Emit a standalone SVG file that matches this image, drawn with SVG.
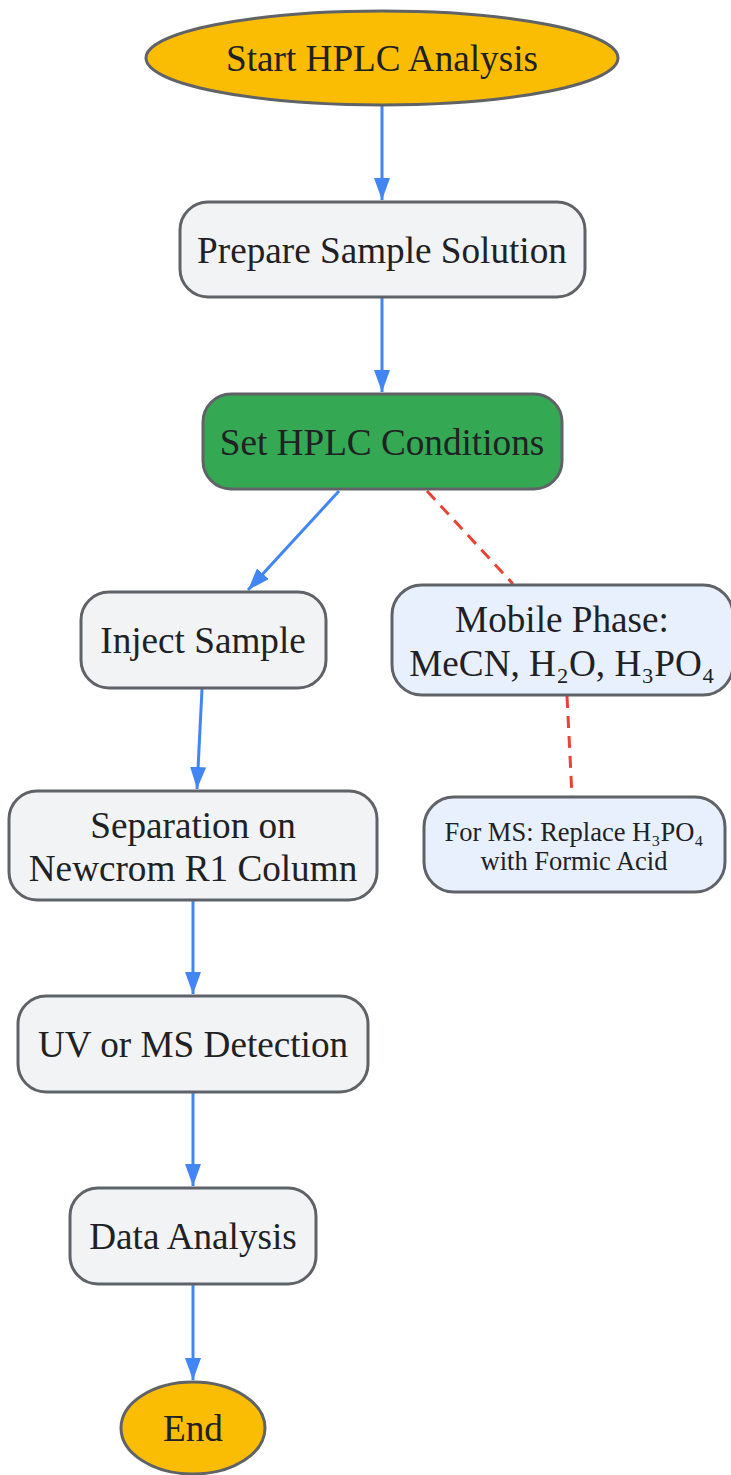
<svg xmlns="http://www.w3.org/2000/svg" width="731" height="1475" viewBox="0 0 731 1475">
<defs>
<marker id="ah" viewBox="0 0 22 16" refX="22" refY="8" markerWidth="22" markerHeight="16" markerUnits="userSpaceOnUse" orient="auto">
<path d="M0,0 L22,8 L0,16 z" fill="#4285f4"/>
</marker>
<style>
.n{stroke:#5f6368;stroke-width:3}
.g{fill:#f1f3f4}
.lb{fill:#e8f0fe}
.y{fill:#fbbc04}
.gr{fill:#34a853}
text{font-family:"Liberation Serif","Times New Roman",serif;fill:#202124;text-anchor:middle}
.t{font-size:37.2px}
.s{font-size:26.5px}
.e{stroke:#4285f4;stroke-width:3;fill:none;marker-end:url(#ah)}
.d{stroke:#ea4335;stroke-width:3;fill:none;stroke-dasharray:12,8}
</style>
</defs>
<g id="connectors">
<line class="e" x1="382" y1="106" x2="382" y2="200"/>
<line class="e" x1="382" y1="298" x2="382" y2="392"/>
<line class="e" x1="339" y1="491" x2="248" y2="590"/>
<line class="e" x1="202" y1="689" x2="197" y2="789"/>
<line class="e" x1="193" y1="901" x2="193" y2="994"/>
<line class="e" x1="193" y1="1093" x2="193" y2="1186"/>
<line class="e" x1="193" y1="1285" x2="193" y2="1380"/>
<line class="d" x1="427" y1="491" x2="513" y2="584"/>
<line class="d" x1="567" y1="696" x2="572" y2="796"/>
</g>
<g id="start">
<ellipse class="n y" cx="382" cy="58" rx="236" ry="47"/>
<text class="t" x="382" y="71">Start HPLC Analysis</text>
</g>
<g id="prepare">
<rect class="n g" x="180" y="202" width="405" height="95" rx="28"/>
<text class="t" x="382" y="263">Prepare Sample Solution</text>
</g>
<g id="conditions">
<rect class="n gr" x="203" y="394" width="359" height="95" rx="28"/>
<text class="t" x="382" y="455">Set HPLC Conditions</text>
</g>
<g id="inject">
<rect class="n g" x="81" y="592" width="245" height="96" rx="28"/>
<text class="t" x="203" y="653">Inject Sample</text>
</g>
<g id="mobile">
<rect class="n lb" x="392" y="585" width="341" height="110" rx="30"/>
<text class="t" x="562" y="632">Mobile Phase:</text>
<text class="t" x="562" y="676">MeCN, H₂O, H₃PO₄</text>
</g>
<g id="forms">
<rect class="n lb" x="424" y="797" width="301" height="95" rx="30"/>
<text class="s" x="574" y="841">For MS: Replace H₃PO₄</text>
<text class="s" x="574" y="870">with Formic Acid</text>
</g>
<g id="separation">
<rect class="n g" x="9" y="791" width="368" height="109" rx="28"/>
<text class="t" x="193" y="838">Separation on</text>
<text class="t" x="193" y="881">Newcrom R1 Column</text>
</g>
<g id="detection">
<rect class="n g" x="18" y="996" width="350" height="96" rx="28"/>
<text class="t" x="193" y="1057">UV or MS Detection</text>
</g>
<g id="data">
<rect class="n g" x="70" y="1188" width="246" height="96" rx="28"/>
<text class="t" x="193" y="1249">Data Analysis</text>
</g>
<g id="end">
<ellipse class="n y" cx="193" cy="1428" rx="72" ry="46"/>
<text class="t" x="193" y="1441">End</text>
</g>
</svg>
